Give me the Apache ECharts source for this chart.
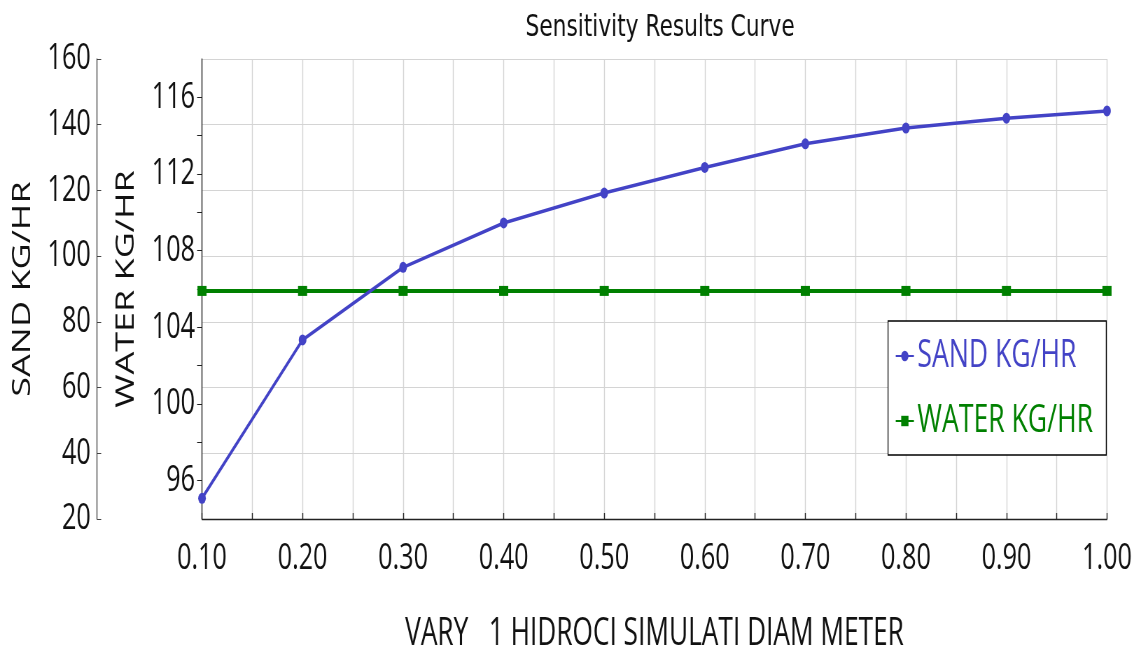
<!DOCTYPE html>
<html>
<head>
<meta charset="utf-8">
<script src="https://cdn.jsdelivr.net/npm/echarts@6/dist/echarts.min.js"></script>
<style>
  html, body { margin: 0; padding: 0; overflow: hidden; background: #fff; }
  /* the reference is drawn with tall, narrow text: draw wide, then squeeze */
  #main { width: 1634px; height: 650px; transform: scaleX(0.7); transform-origin: 0 0; }
</style>
</head>
<body>
<div id="main"></div>
<script>
// 数据
const xValues = [0.1, 0.2, 0.3, 0.4, 0.5, 0.6, 0.7, 0.8, 0.9, 1.0];
const sandValues = [26.3, 74.5, 96.6, 110.1, 119.2, 127.0, 134.2, 139.0, 142.0, 144.2];
const waterValues = [105.9, 105.9, 105.9, 105.9, 105.9, 105.9, 105.9, 105.9, 105.9, 105.9];
const xLabelValues = [0.1, 0.2, 0.3, 0.4, 0.5, 0.6, 0.7, 0.8, 0.9, 1.0];
const waterTickValues = [96, 98, 100, 102, 104, 106, 108, 110, 112, 114, 116];
const waterLabelValues = [96, 100, 104, 108, 112, 116];

const font = 'Open Sans';
const blue = '#4343c6';
const green = '#008000';

var myChart = echarts.init(document.getElementById('main'));

let o = {
  backgroundColor: '#fff',
  animation: false,
  title: {
    text: 'Sensitivity Results Curve',
    left: 938,
    top: 7,
    textAlign: 'center',
    textStyle: { fontFamily: 'DejaVu Sans', fontSize: 31, fontWeight: 'normal', color: '#111' }
  },
  grid: { left: 288.6, right: 52.6, top: 59, bottom: 131, outerBoundsMode: 'none' },
  legend: {
    orient: 'vertical',
    left: 1268.6,
    top: 321,
    padding: [16, 19, 15, 10],
    itemGap: 27,
    itemWidth: 26,
    itemHeight: 13,
    backgroundColor: '#fff',
    borderColor: '#000',
    borderWidth: 1.3,
    borderRadius: 0,
    textStyle: { fontFamily: font, fontSize: 38, lineHeight: 37 },
    data: [
      { name: 'SAND KG/HR', textStyle: { color: blue } },
      { name: 'WATER KG/HR', textStyle: { color: green } }
    ]
  },
  xAxis: {
    type: 'value',
    min: 0.1,
    max: 1.0,
    interval: 0.05,
    name: 'VARY   1 HIDROCI SIMULATI DIAM METER',
    nameLocation: 'middle',
    nameGap: 96,
    nameTextStyle: { fontFamily: font, fontSize: 37.5, color: '#111' },
    axisLine: { show: true, lineStyle: { color: '#222', width: 1.4 } },
    axisTick: { show: true, inside: true, length: 6, lineStyle: { color: '#222', width: 1.4 } },
    axisLabel: {
      customValues: xLabelValues,
      margin: 22,
      fontFamily: font,
      fontSize: 36,
      color: '#111',
      formatter: v => v.toFixed(2)
    },
    splitLine: { show: true, lineStyle: { color: '#d4d4d4', width: 1.4 } }
  },
  yAxis: [
    {
      type: 'value',
      position: 'left',
      offset: 150,
      min: 20,
      max: 160,
      interval: 20,
      name: 'SAND KG/HR',
      nameLocation: 'middle',
      nameRotate: 90,
      nameGap: 88,
      nameTextStyle: { fontFamily: font, fontSize: 36, color: '#111' },
      axisLine: { show: true, lineStyle: { color: '#444', width: 1.4 } },
      axisTick: { show: true, inside: true, length: 6, lineStyle: { color: '#444', width: 1 } },
      axisLabel: { margin: 9, fontFamily: font, fontSize: 36, color: '#111' },
      splitLine: { show: true, lineStyle: { color: '#d4d4d4', width: 1 } }
    },
    {
      type: 'value',
      position: 'left',
      offset: 0,
      min: 94,
      max: 118,
      name: 'WATER KG/HR',
      nameLocation: 'middle',
      nameRotate: 90,
      nameGap: 90,
      nameTextStyle: { fontFamily: font, fontSize: 36, color: '#111' },
      axisLine: { show: true, lineStyle: { color: '#222', width: 1.4 } },
      axisTick: { show: true, inside: false, length: 7, customValues: waterTickValues, lineStyle: { color: '#222', width: 1 } },
      axisLabel: { customValues: waterLabelValues, margin: 10, fontFamily: font, fontSize: 36, color: '#111' },
      splitLine: { show: false }
    }
  ],
  series: [
    {
      name: 'WATER KG/HR',
      type: 'line',
      yAxisIndex: 1,
      data: xValues.map((x, i) => [x, waterValues[i]]),
      symbol: 'rect',
      symbolSize: [13, 10],
      lineStyle: { color: green, width: 4 },
      itemStyle: { color: green }
    },
    {
      name: 'SAND KG/HR',
      type: 'line',
      yAxisIndex: 0,
      data: xValues.map((x, i) => [x, sandValues[i]]),
      symbol: 'circle',
      symbolSize: 11,
      lineStyle: { color: blue, width: 3.5 },
      itemStyle: { color: blue }
    }
  ]
};

myChart.setOption(o);
</script>
</body>
</html>
